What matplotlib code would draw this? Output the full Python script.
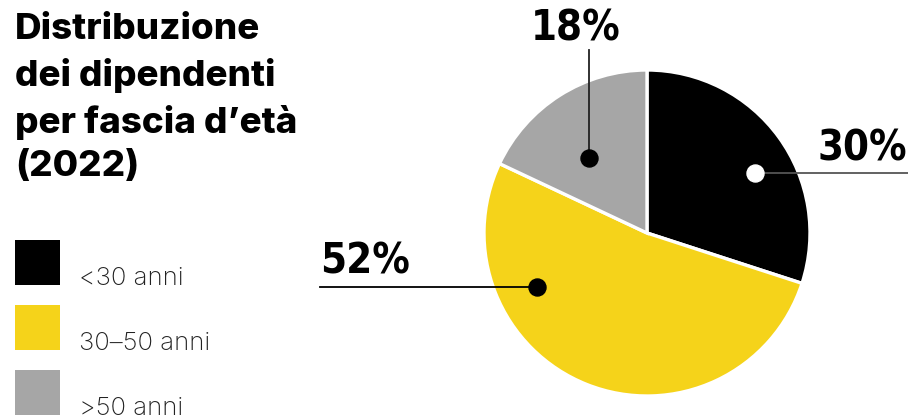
import matplotlib
matplotlib.use("Agg")
import matplotlib.pyplot as plt
from matplotlib.patches import Rectangle

categories = ["<30 anni", "30–50 anni", ">50 anni"]
values = [30, 52, 18]
labels = ["30%", "52%", "18%"]
colors = ["#000000", "#F5D31A", "#A6A6A6"]
title = "Distribuzione\ndei dipendenti\nper fascia d’età\n(2022)"

W, H = 908, 417
fig = plt.figure(figsize=(W / 100, H / 100), dpi=100)
ax = fig.add_axes([0, 0, 1, 1])
ax.set_xlim(0, W)
ax.set_ylim(0, H)
ax.set_aspect("equal")
ax.axis("off")

def Y(y):
    return H - y

cx, cy, r = 647, Y(233), 163
ax.pie(values, colors=colors, startangle=90, counterclock=False,
       center=(cx, cy), radius=r, frame=True,
       wedgeprops=dict(edgecolor="white", linewidth=2.4))
ax.set_xlim(0, W)
ax.set_ylim(0, H)
ax.axis("off")

lab_font = dict(family=["DejaVu Sans"], stretch="condensed", weight="bold",
                fontsize=30, color="black")

# 30%
ax.plot([755, W], [Y(173), Y(173)], color="#555555", lw=1.3, zorder=5)
ax.scatter([755], [Y(173)], s=150, color="white", zorder=6)
ax.text(W - 1, Y(148), labels[0], ha="right", va="center", **lab_font)
# 52%
ax.plot([320, 537], [Y(287), Y(287)], color="black", lw=1.3, zorder=5)
ax.scatter([537], [Y(287)], s=150, color="black", zorder=6)
ax.text(320, Y(261), labels[1], ha="left", va="center", **lab_font)
# 18%
ax.plot([589, 589], [Y(50), Y(158)], color="#222222", lw=1.3, zorder=5)
ax.scatter([589], [Y(158)], s=150, color="black", zorder=6)
ax.text(576, Y(28), labels[2], ha="center", va="center", **lab_font)

# title
ax.text(15, Y(13), title, ha="left", va="top", fontsize=26.5, weight="heavy",
        family=["Inter", "DejaVu Sans"], linespacing=1.42, color="black")

# legend
leg_top = [240, 305, 370]
for c, t, yt in zip(categories, colors, leg_top):
    ax.add_patch(Rectangle((15, Y(yt + 45)), 45, 45, color=t, lw=0))
    ax.text(79, Y(yt + 45), c, ha="left", va="baseline", fontsize=18.5,
            weight="light", family=["Inter", "DejaVu Sans"], color="#222222")

fig.savefig("out.png", dpi=100)
